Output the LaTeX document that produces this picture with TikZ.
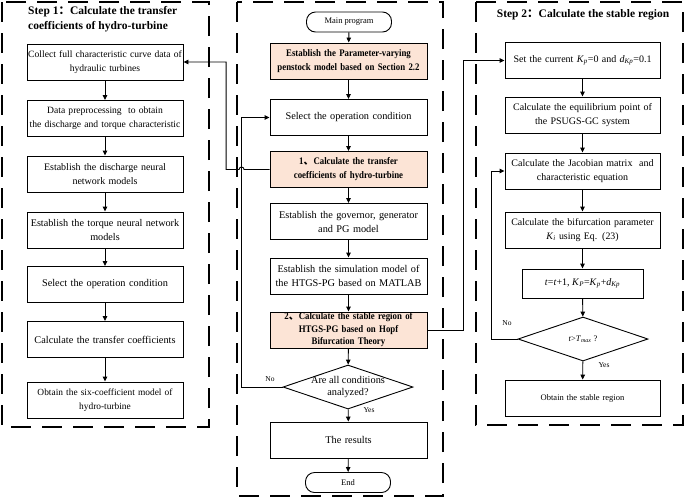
\documentclass[tikz,border=0pt]{standalone}
\usepackage{fontspec}
\setmainfont{Liberation Serif}
\newfontfamily\cjk{Noto Sans CJK SC}
\newfontfamily\cb{Liberation Serif}[FakeStretch=0.88]
\usetikzlibrary{arrows.meta,shapes.geometric}
\definecolor{peach}{RGB}{252,228,214}
\newcommand{\iv}[1]{\textit{#1}}
\newcommand{\isub}[2]{\textit{#1}\textsubscript{\textit{#2}}}
\begin{document}
\begin{tikzpicture}[x=1pt,y=-1pt,
  every node/.style={font=\fontsize{10}{14}\selectfont},
  box/.style={draw,line width=0.9pt,minimum height=36pt,align=center,inner sep=0.5pt},
  lbox/.style={box,minimum width=156pt,text width=155pt},
  mbox/.style={box,minimum width=157pt,text width=156pt},
  rbox/.style={box,minimum width=155pt,text width=154pt},
  hl/.style={fill=peach,font=\fontsize{10}{14}\selectfont\cb\bfseries},
  term/.style={draw,line width=0.9pt,rounded corners=9pt,minimum width=85pt,minimum height=20pt,inner sep=0pt,font=\fontsize{8.5}{10}\selectfont},
  dia/.style={draw,line width=0.9pt,diamond,minimum width=130pt,minimum height=44pt,inner sep=0pt},
  dashbox/.style={line width=1.2pt,dash pattern=on 20pt off 11pt},
  arr/.style={line width=0.9pt,-{Triangle[length=5pt,width=4.5pt]}},
  lab/.style={font=\fontsize{7.5}{9}\selectfont,inner sep=0pt},
  ttl/.style={font=\fontsize{11.5}{15.5}\selectfont\bfseries,inner sep=0pt,align=left}
]
\useasboundingbox (0,0) rectangle (685,499);
% dashed frames
\draw[dashbox] (2,2) rectangle (209,427);
\draw[dashbox] (237,2) rectangle (443,496);
\draw[dashbox] (476,2) rectangle (683,425);

% Step 1 column
\node[ttl,anchor=north west] (t1) at (28,6) {Step 1{\cjk ：}Calculate the transfer\\coefficients of hydro-turbine};
\node[lbox,font=\fontsize{9.6}{14}\selectfont] (b1) at (105,62) {Collect full characteristic curve data of\\hydraulic turbines};
\node[lbox,font=\fontsize{9.6}{14}\selectfont] (b2) at (105,118.5) {Data preprocessing\ \ to obtain\\the discharge and torque characteristic};
\node[lbox] (b3) at (105,174) {Establish the discharge neural\\network models};
\node[lbox,font=\fontsize{10.2}{14}\selectfont] (b4) at (105,230) {Establish the torque neural network\\models};
\node[lbox,font=\fontsize{10.3}{14}\selectfont] (b5) at (105,284.5) {Select the operation condition};
\node[lbox,font=\fontsize{10.3}{14}\selectfont] (b6) at (105,339.5) {Calculate the transfer coefficients};
\node[lbox,font=\fontsize{9.4}{14}\selectfont] (b7) at (105,400) {Obtain the six-coefficient model of\\hydro-turbine};
\draw[arr] (b1) -- (b2);
\draw[arr] (b2) -- (b3);
\draw[arr] (b3) -- (b4);
\draw[arr] (b4) -- (b5);
\draw[arr] (b5) -- (b6);
\draw[arr] (b6) -- (b7);

% main column
\node[term] (st) at (349,22) {Main program};
\node[mbox,hl] (m1) at (348.5,61) {Establish the Parameter-varying\\penstock model based on Section 2.2};
\node[mbox,font=\fontsize{10.3}{14}\selectfont] (m2) at (348.5,117.5) {Select the operation condition};
\node[mbox,hl] (m3) at (348.5,169.5) {1{\cjk 、}Calculate the transfer\\coefficients of hydro-turbine};
\node[mbox,font=\fontsize{10.3}{14}\selectfont] (m4) at (348.5,221.5) {Establish the governor, generator\\and PG model};
\node[mbox,font=\fontsize{10.3}{14}\selectfont] (m5) at (348.5,276) {Establish the simulation model of\\the HTGS-PG based on MATLAB};
\node[mbox,hl,font=\fontsize{10}{12.5}\selectfont\cb\bfseries] (m6) at (348.5,330) {2{\cjk 、}Calculate the stable region of\\HTGS-PG based on Hopf\\Bifurcation Theory};
\node[dia] (md) at (348,387) {};
\node[align=center,inner sep=0pt,font=\fontsize{10.3}{12}\selectfont] (mdt) at (348,387) {Are all conditions\\analyzed?};
\node[mbox,font=\fontsize{10.3}{14}\selectfont] (m7) at (348.5,440) {The results};
\node[term] (en) at (348,482.5) {End};
\draw[arr] (st) -- (m1);
\draw[arr] (m1) -- (m2);
\draw[arr] (m2) -- (m3);
\draw[arr] (m3) -- (m4);
\draw[arr] (m4) -- (m5);
\draw[arr] (m5) -- (m6);
\draw[arr] (m6) -- (md);
\draw[arr] (md) -- (m7);
\draw[arr] (m7) -- (en);
\node[lab] (no1) at (270,379) {No};
\node[lab] (yes1) at (369,410) {Yes};

% Step 2 column
\node[ttl,anchor=north] (t2) at (583,9) {Step 2{\cjk ：}Calculate the stable region};
\node[rbox] (r1) at (582.5,60.5) {Set the current \isub{K}{p}=0 and \isub{d}{Kp}=0.1};
\node[rbox] (r2) at (582.5,115) {Calculate the equilibrium point of\\the PSUGS-GC system};
\node[rbox] (r3) at (582.5,171) {Calculate the Jacobian matrix\ \ and\\characteristic equation};
\node[rbox,font=\fontsize{9.9}{14}\selectfont] (r4) at (582.5,230) {Calculate the bifurcation parameter\\\isub{K}{i} using Eq. (23)};
\node[box,minimum width=121pt,minimum height=29pt] (r5) at (582.5,283.5) {\iv{t}=\iv{t}+1, \isub{K}{P}=\isub{K}{p}+\isub{d}{Kp}};
\node[dia] (rd) at (583,339) {};
\node[inner sep=0pt,font=\fontsize{8.5}{10}\selectfont] (rdt) at (583,339) {\iv{t}>\isub{T}{max} ?};
\node[rbox,font=\fontsize{8.5}{12}\selectfont] (r6) at (582.5,398) {Obtain the stable region};
\draw[arr] (r1) -- (r2);
\draw[arr] (r2) -- (r3);
\draw[arr] (r3) -- (r4);
\draw[arr] (r4) -- (r5);
\draw[arr] (r5) -- (rd);
\draw[arr] (rd) -- (r6);
\node[lab] (no2) at (507,323) {No};
\node[lab] (yes2) at (604,365) {Yes};

% cross connectors
\draw[arr] (m3.west) -- ++(-25.5,0) arc[start angle=0,end angle=180,radius=2.5pt] -- ++(-13,0) |- (b1.east);
\draw[arr] (md.west) -- ++(-41,0) |- (m2.west);
\draw[arr] (m6.east) -- ++(36,0) |- (r1.west);
\draw[arr] (rd.west) -- ++(-26,0) |- (r3.west);
\end{tikzpicture}
\end{document}
